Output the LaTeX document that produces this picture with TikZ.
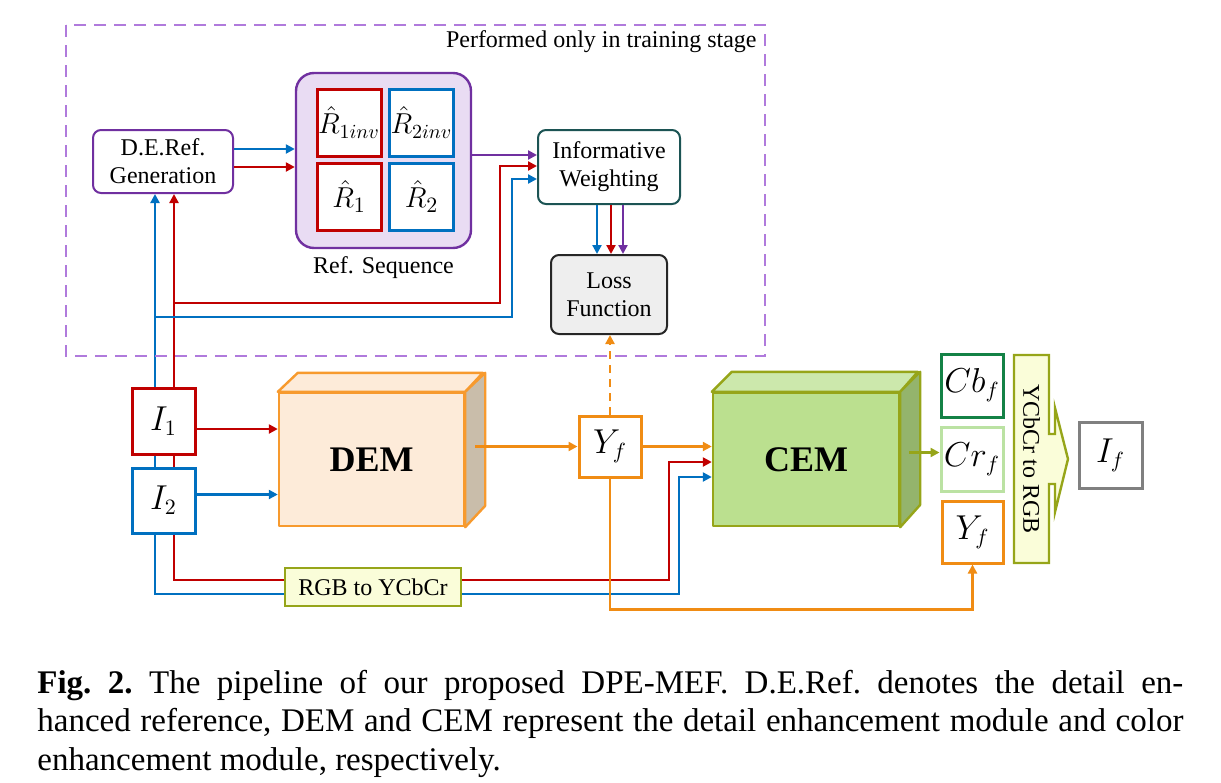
\documentclass[tikz,border=0pt]{standalone}
\usepackage{fontspec}
\setmainfont{Liberation Serif}
\usetikzlibrary{arrows.meta,backgrounds,calc}
\definecolor{cred}{RGB}{192,0,0}
\definecolor{cblue}{RGB}{0,112,192}
\definecolor{cpurple}{RGB}{112,48,160}
\definecolor{clav}{RGB}{176,122,220}
\definecolor{cseq}{RGB}{233,220,243}
\definecolor{cteal}{RGB}{28,84,84}
\definecolor{cgrayf}{RGB}{238,238,238}
\definecolor{corange}{RGB}{240,140,20}
\definecolor{cdemf}{RGB}{253,235,217}
\definecolor{cdemd}{RGB}{247,154,46}
\definecolor{cdems}{RGB}{201,189,170}
\definecolor{colive}{RGB}{150,165,25}
\definecolor{ccemf}{RGB}{187,224,143}
\definecolor{ccemt}{RGB}{204,232,172}
\definecolor{ccems}{RGB}{148,180,108}
\definecolor{cyel}{RGB}{250,253,217}
\definecolor{cdgreen}{RGB}{20,130,70}
\definecolor{clgreen}{RGB}{187,226,163}
\definecolor{cgray}{RGB}{128,128,128}
\tikzset{
  arr/.style={line width=1.2pt,-{Triangle[length=4.5pt,width=4.5pt]}},
  txt/.style={font=\fontsize{12}{14}\selectfont},
  rbox/.style={txt,draw,rounded corners=4pt,line width=1pt,fill=white,align=center},
  sbox/.style={draw,line width=1.5pt,fill=white,inner sep=0pt,font=\fontsize{16}{19}\selectfont},
  cube/.style={line width=1.2pt,line join=round,font=\bfseries\fontsize{18}{20}\selectfont}
}
\begin{document}
\begin{tikzpicture}[x=0.5pt,y=-0.5pt]
\useasboundingbox (0,0) rectangle (1221,782);
% training stage part
\draw[clav,line width=1pt,dash pattern=on 6pt off 4pt] (66,25) rectangle (765,356);
\node[txt,anchor=base east,inner sep=0pt] (stage) at (757,47) {Performed only in training stage};
\node[rbox,draw=cpurple,minimum width=70pt,minimum height=31.5pt] (deref) at (163,161.5) {D.E.Ref.\\Generation};
\node[draw=cpurple,fill=cseq,line width=1.2pt,rounded corners=9pt,minimum width=87.5pt,minimum height=87.5pt] (seq) at (383.5,160.5) {};
\node[txt] (seqlab) at (383.5,268) {Ref. Sequence};
\foreach \nm/\cx/\cy/\cl/\lb/\fs in {r1inv/349/122.5/cred/{\hat{R}_{1inv}}/14,r2inv/421.5/122.5/cblue/{\hat{R}_{2inv}}/14,r1/349/196.5/cred/{\hat{R}_1}/15.5,r2/421.5/196.5/cblue/{\hat{R}_2}/15.5}
  {\node[sbox,draw=\cl,minimum width=32pt,minimum height=33.5pt,font=\fontsize{\fs}{16}\selectfont] (\nm) at (\cx,\cy) {$\lb$};}
\node[rbox,draw=cteal,minimum width=71pt,minimum height=37pt] (iw) at (609,167) {Informative\\Weighting};
\node[rbox,draw=black!85,fill=cgrayf,minimum width=58pt,minimum height=39.5pt] (loss) at (609,294.5) {Loss\\Function};
% inputs and DEM
\node[sbox,draw=cred,minimum width=31.5pt,minimum height=33pt] (in1) at (163.5,421) {$I_1$};
\node[sbox,draw=cblue,minimum width=31.5pt,minimum height=32.5pt] (in2) at (163.5,500.5) {$I_2$};
\node[cube,draw=cdemd,fill=cdemf,minimum width=92.5pt,minimum height=66.5pt] (dem) at (371.5,459.5) {DEM};
\draw[cube,draw=cdemd,fill=cdemf] (dem.north west) -- ++(20,-19) -- ++(185,0) -- (dem.north east) -- cycle;
\draw[cube,draw=cdemd,fill=cdems] (dem.north east) -- ++(20,-19) -- ++(0,133) -- (dem.south east) -- cycle;
\node[draw=colive,fill=cyel,line width=1.2pt,txt,minimum width=88pt,minimum height=19pt] (rgb2ycc) at (373,587) {RGB to YCbCr};
\node[sbox,draw=corange,minimum width=31pt,minimum height=30.5pt] (yf) at (610,446.5) {$Y_f$};
% CEM and outputs
\node[cube,draw=colive,fill=ccemf,minimum width=93pt,minimum height=66.5pt] (cem) at (806,459.5) {CEM};
\draw[cube,draw=colive,fill=ccemt] (cem.north west) -- ++(20,-20) -- ++(186,0) -- (cem.north east) -- cycle;
\draw[cube,draw=colive,fill=ccems] (cem.north east) -- ++(20,-20) -- ++(0,133) -- (cem.south east) -- cycle;
\node[sbox,draw=cdgreen,minimum width=31pt,minimum height=31.5pt] (cbf) at (972,385.5) {$Cb_f$};
\node[sbox,draw=clgreen,minimum width=31pt,minimum height=32pt] (crf) at (972,459) {$Cr_f$};
\node[sbox,draw=corange,minimum width=30.5pt,minimum height=31pt] (yf2) at (972.5,532) {$Y_f$};
\draw[colive,fill=cyel,line width=1.2pt,line join=miter] (1014,355) -- (1049,355) -- (1049,434) -- (1055,434) -- (1055,408) -- (1068,459) -- (1055,512) -- (1055,484) -- (1049,484) -- (1049,563) -- (1014,563) -- cycle;
\node[txt,rotate=-90] (ycclab) at (1031.5,459) {YCbCr to RGB};
\node[sbox,draw=cgray,minimum width=31.5pt,minimum height=33pt] (out) at (1110.5,455) {$I_f$};
% connectors
\coordinate (bl) at ([xshift=-4.25pt]in2.south);
\coordinate (rd) at ([xshift=5.25pt]in2.south);
\begin{pgfonlayer}{background}
\draw[arr,cblue] (bl) |- (679,594) |- ([yshift=-8.75pt]cem.west);
\draw[arr,cred] (rd) |- (669,580) |- ([yshift=-1.25pt]cem.west);
\draw[arr,cblue] (bl) -- (bl |- deref.south);
\draw[arr,cred] (rd) -- (rd |- deref.south);
\end{pgfonlayer}
\draw[arr,cblue] (bl |- 0,317) -| (512,179) -- (iw.west |- 0,179);
\draw[arr,cred] (rd |- 0,303) -| (500,166) -- (iw.west |- 0,166);
\draw[arr,cblue] ([yshift=6.25pt]deref.east) -- ([yshift=6.25pt]deref.east -| seq.west);
\draw[arr,cred] ([yshift=-2.75pt]deref.east) -- ([yshift=-2.75pt]deref.east -| seq.west);
\draw[arr,cpurple] (seq.east |- 0,155) -- (iw.west |- 0,155);
\foreach \dx/\cl in {-6/cblue,1/cred,7/cpurple}
  {\draw[arr,\cl] ([xshift=\dx pt]iw.south) -- ([xshift=\dx pt]loss.north);}
\draw[arr,cred] ([yshift=-4pt]in1.east) -- ([yshift=-4pt]in1.east -| dem.west);
\draw[arr,cblue] ([yshift=3pt]in2.east) -- ([yshift=3pt]in2.east -| dem.west);
\draw[arr,corange] ([xshift=5pt]yf.west -| dem.east) -- (yf.west);
\draw[arr,corange,dash pattern=on 4pt off 3pt] (yf.north) -- (yf.north |- loss.south);
\draw[arr,corange] (yf.east) -- (yf.east -| cem.west);
\draw[arr,corange] (yf.south) -- ++(0,131) -| (yf2.south);
\coordinate (cemout) at ($(cem.east)+(9,-7)$);
\draw[arr,colive,line width=1.5pt] (cemout) -- (cemout -| crf.west);
% caption
\node[anchor=north west,inner sep=0pt,text width=573pt,align=justify,font=\fontsize{16.5}{19.25}\selectfont] (cap) at (37,669.5) {\frenchspacing\textbf{Fig. 2.} The pipeline of our proposed DPE-MEF. D.E.Ref. denotes the detail en-\linebreak hanced reference, DEM and CEM represent the detail enhancement module and color\linebreak enhancement module, respectively.};
\end{tikzpicture}
\end{document}
